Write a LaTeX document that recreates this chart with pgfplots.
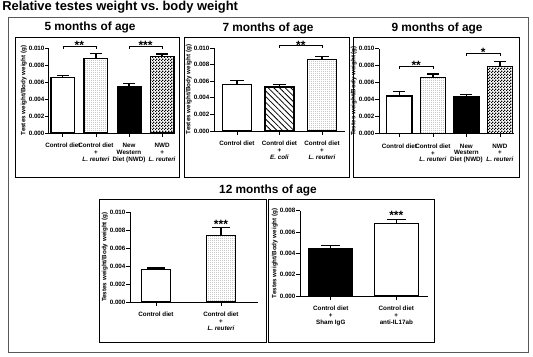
\documentclass[border=0pt]{standalone}
\usepackage{pgfplots}
\pgfplotsset{compat=1.18}
\usepackage{fontspec}
\setmainfont{Liberation Sans}
\setsansfont{Liberation Sans}
\usetikzlibrary{patterns,patterns.meta}
\pgfdeclarepatternformonly{finecheck}{\pgfqpoint{0pt}{0pt}}{\pgfqpoint{2pt}{2pt}}{\pgfqpoint{2pt}{2pt}}{%
  \pgfpathrectangle{\pgfqpoint{0pt}{0pt}}{\pgfqpoint{1pt}{1pt}}%
  \pgfpathrectangle{\pgfqpoint{1pt}{1pt}}{\pgfqpoint{1pt}{1pt}}%
  \pgfusepath{fill}}
\pgfdeclarepatternformonly{finedots}{\pgfqpoint{0pt}{0pt}}{\pgfqpoint{1.2pt}{1.2pt}}{\pgfqpoint{1.2pt}{1.2pt}}{%
  \pgfpathrectangle{\pgfqpoint{0pt}{0pt}}{\pgfqpoint{0.5pt}{0.5pt}}%
  \pgfusepath{fill}}
\newcommand\sm{\fontsize{4.7}{5.1}\selectfont\bfseries}
\newcommand\ttl{\fontsize{8.9}{10}\selectfont\bfseries}
\newcommand\stars{\fontsize{9}{10}\selectfont\bfseries}
\pgfplotsset{
  gp/.style={
    scale only axis, clip=false,
    axis x line*=bottom, axis y line*=left,
    axis line style={line width=0.75pt, black},
    enlargelimits=false, ymin=0,
    tick align=outside, major tick length=2.8pt,
    tick style={line width=0.6pt, black},
    scaled y ticks=false,
    tick label style={font=\sm},
    yticklabel style={inner xsep=0.4pt},
    xticklabel style={align=center, yshift=-1.5pt},
    ylabel={Testes weight/Body weight (g)},
    every axis y label/.style={at={([xshift=-19pt]axis description cs:0,0.5)}, rotate=90, anchor=center, font=\sm},
    ytick={0,0.002,0.004,0.006,0.008,0.010},
    yticklabels={0.000,0.002,0.004,0.006,0.008,0.010},
  },
  gpbar/.style={ybar, bar shift=0pt, draw=black, line width=0.9pt,
    error bars/y dir=plus, error bars/y explicit,
    error bars/error bar style={line width=0.9pt, black, solid},
    error bars/error mark options={rotate=90, line width=0.9pt, mark size=#1, black, solid}},
  gpbar/.default=4.5pt,
}
\begin{document}
\begin{tikzpicture}[x=0.75pt,y=-0.75pt]
\useasboundingbox (0,0) rectangle (533,357);
\coordinate (A1) at (49,133);
\coordinate (A2) at (214,131);
\coordinate (A3) at (379,133.3);
\coordinate (A4) at (130,302);
\coordinate (A5) at (300,296);
\draw[black!65, line width=0.75pt] (8,17) rectangle (528,352);
\draw[black, line width=0.75pt] (15,37) rectangle (179,177);
\draw[black, line width=0.75pt] (184,37) rectangle (349,177);
\draw[black, line width=0.75pt] (353,37) rectangle (519,177);
\draw[black, line width=0.75pt] (99,199) rectangle (266,342);
\draw[black, line width=0.75pt] (268,199) rectangle (434,342);
\node[font=\fontsize{9.7}{11}\selectfont\bfseries, anchor=west, inner sep=0pt] at (2,7) {Relative testes weight vs.\ body weight};
\node[font=\ttl] at (90,27) {5 months of age};
\node[font=\ttl] at (268,28) {7 months of age};
\node[font=\ttl] at (437,28) {9 months of age};
\node[font=\ttl] at (268,190) {12 months of age};

% 5 months
\begin{axis}[gp, at={(A1)}, anchor=south west, width=92.25pt, height=63.75pt,
  xmin=-0.42, xmax=3.3, ymax=0.010, xtick={0,1,2,3},
  xticklabels={Control diet, {Control diet\\+\\\textit{L. reuteri}}, {New\\Western\\Diet (NWD)}, {NWD\\+\\\textit{L. reuteri}}}]
\addplot[gpbar, fill=white, bar width=0.72] coordinates {(0,0.0065) +- (0,0.0003)};
\addplot[gpbar, pattern=finedots, pattern color=gray, bar width=0.72] coordinates {(1,0.0088) +- (0,0.0006)};
\addplot[gpbar, fill=black, bar width=0.72] coordinates {(2,0.0055) +- (0,0.0003)};
\addplot[gpbar, pattern=finecheck, bar width=0.72] coordinates {(3,0.0090) +- (0,0.0003)};
\draw[line width=0.5pt] (axis cs:0,0.00988) -- (axis cs:0,0.01024) -- (axis cs:1,0.01024) -- (axis cs:1,0.00988);
\draw[line width=0.5pt] (axis cs:2,0.00988) -- (axis cs:2,0.01024) -- (axis cs:3,0.01024) -- (axis cs:3,0.00988);
\node[font=\stars, anchor=base] at (axis cs:0.5,0.00988) {**};
\node[font=\stars, anchor=base] at (axis cs:2.5,0.00988) {***};
\end{axis}

% 7 months
\begin{axis}[gp, at={(A2)}, anchor=south west, width=98.25pt, height=62.25pt,
  xmin=-0.54, xmax=2.54, ymax=0.010, xtick={0,1,2},
  xticklabels={Control diet, {Control diet\\+\\\textit{E. coli}}, {Control diet\\+\\\textit{L. reuteri}}}]
\addplot[gpbar=5pt, fill=white, bar width=0.68] coordinates {(0,0.0056) +- (0,0.0005)};
\addplot[gpbar=5pt, pattern={Lines[angle=-45, distance=3pt, line width=0.6pt]}, bar width=0.68] coordinates {(1,0.0053) +- (0,0.0003)};
\addplot[gpbar=5pt, pattern=finedots, pattern color=gray, bar width=0.68] coordinates {(2,0.0086) +- (0,0.0004)};
\draw[line width=0.5pt] (axis cs:1,0.0100) -- (axis cs:1,0.01028) -- (axis cs:2,0.01028) -- (axis cs:2,0.0100);
\node[font=\stars, anchor=base] at (axis cs:1.5,0.00985) {**};
\end{axis}

% 9 months
\begin{axis}[gp, at={(A3)}, anchor=south west, width=101.25pt, height=63.45pt,
  xmin=-0.61, xmax=3.42, ymax=0.010, xtick={0,1,2,3},
  xticklabels={Control diet, {Control diet\\+\\\textit{L. reuteri}}, {New\\Western\\Diet (NWD)}, {NWD\\+\\\textit{L. reuteri}}}]
\addplot[gpbar, fill=white, bar width=0.75] coordinates {(0,0.0044) +- (0,0.0005)};
\addplot[gpbar, pattern=finedots, pattern color=gray, bar width=0.75] coordinates {(1,0.0066) +- (0,0.0004)};
\addplot[gpbar, fill=black, bar width=0.75] coordinates {(2,0.0043) +- (0,0.0003)};
\addplot[gpbar, pattern=finecheck, bar width=0.75] coordinates {(3,0.0079) +- (0,0.0006)};
\draw[line width=0.5pt] (axis cs:0,0.0076) -- (axis cs:0,0.00787) -- (axis cs:1,0.00787) -- (axis cs:1,0.0076);
\draw[line width=0.5pt] (axis cs:2,0.00917) -- (axis cs:2,0.00946) -- (axis cs:3,0.00946) -- (axis cs:3,0.00917);
\node[font=\stars, anchor=base] at (axis cs:0.5,0.00752) {**};
\node[font=\stars, anchor=base] at (axis cs:2.5,0.0091) {*};
\end{axis}

% 12 months left
\begin{axis}[gp, at={(A4)}, anchor=south west, width=96pt, height=67.3pt,
  xmin=-0.4, xmax=1.57, ymax=0.010, xtick={0,1},
  xticklabels={Control diet, {Control diet\\+\\\textit{L. reuteri}}}]
\addplot[gpbar=7pt, fill=white, bar width=0.45] coordinates {(0,0.0036) +- (0,0.0002)};
\addplot[gpbar=7pt, pattern=finedots, pattern color=gray, bar width=0.45] coordinates {(1,0.0074) +- (0,0.0009)};
\node[font=\stars, anchor=base] at (axis cs:1,0.00817) {***};
\end{axis}

% 12 months right
\begin{axis}[gp, at={(A5)}, anchor=south west, width=96.3pt, height=64pt,
  xmin=-0.47, xmax=1.49, ymax=0.008, xtick={0,1},
  ytick={0,0.002,0.004,0.006,0.008},
  yticklabels={0.000,0.002,0.004,0.006,0.008},
  xticklabels={{Control diet\\+\\Sham IgG}, {Control diet\\+\\anti-IL17ab}}]
\addplot[gpbar=7pt, fill=black, bar width=0.67] coordinates {(0,0.00445) +- (0,0.0003)};
\addplot[gpbar=7pt, fill=white, bar width=0.67] coordinates {(1,0.0068) +- (0,0.0004)};
\node[font=\stars, anchor=base] at (axis cs:1,0.00719) {***};
\end{axis}
\end{tikzpicture}
\end{document}
